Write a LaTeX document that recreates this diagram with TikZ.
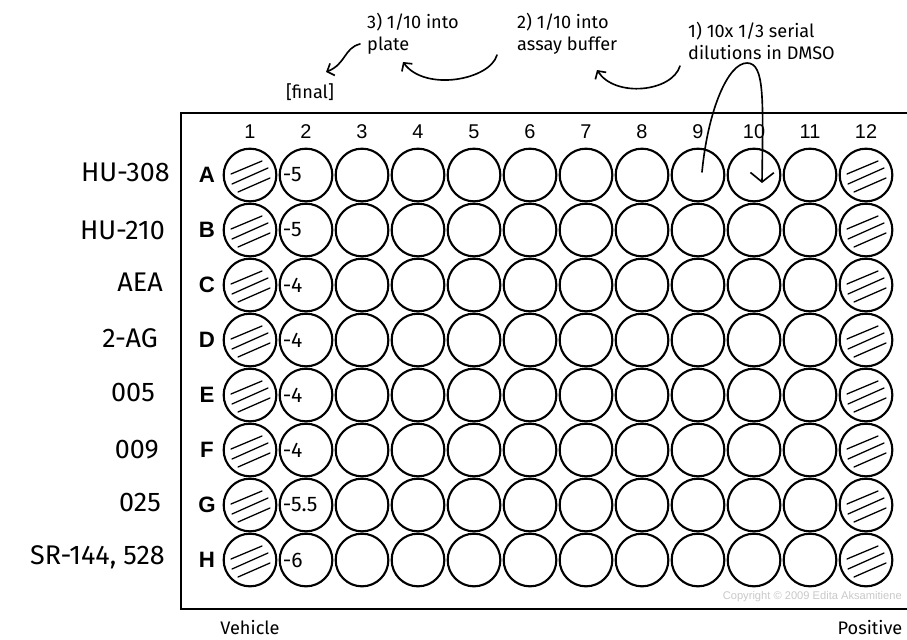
\documentclass[tikz,border=0pt]{standalone}
\usepackage{fontspec}
\setmainfont{Liberation Sans}
\newfontfamily\handfont{Fira Sans}
\usepackage{tikz}
\usetikzlibrary{arrows.meta,positioning,calc}
\definecolor{markgray}{RGB}{200,200,200}

\begin{document}
\begin{tikzpicture}[x=0.03cm, y=-0.03cm, >={Straight Barb[length=5pt,width=11pt]},
  well/.style={circle, draw, line width=1.8pt, minimum size=1.58cm, inner sep=0pt},
  hatch/.style={line width=1.1pt, line cap=round},
  hand/.style={line width=1.4pt, line cap=round, ->},
  handtext/.style={font=\handfont\fontsize{15.5}{19}\selectfont, align=left, inner sep=0pt},
  colnum/.style={font=\fontsize{17}{17}\selectfont},
  rowlet/.style={font=\bfseries\fontsize{19}{19}\selectfont},
  compound/.style={font=\handfont\fontsize{23}{23}\selectfont, anchor=east, inner sep=0pt},
  conc/.style={font=\handfont\fontsize{18}{18}\selectfont, anchor=west, inner sep=0pt}]
  \useasboundingbox (0,0) rectangle (907,639);
  \draw[line width=2.2pt] (907,113) -| (181,609) -- (907,609);
  \foreach \c in {1,...,12}
    \node[colnum] (col\c) at ({250+56*(\c-1)},132) {\c};
  \foreach \r [count=\i from 0] in {A,B,C,D,E,F,G,H} {
    \node[rowlet] (row\r) at (207,{175+55*\i}) {\r};
    \foreach \c in {1,...,12}
      \node[well] (\r\c) at ({250+56*(\c-1)},{175+55*\i}) {};
    \foreach \c in {1,12} {
      \draw[hatch] ($(\r\c)+(-19,-1)$) -- ($(\r\c)+(12,-14)$);
      \draw[hatch] ($(\r\c)+(-18,9)$) -- ($(\r\c)+(18,-7)$);
      \draw[hatch] ($(\r\c)+(-12,17)$) -- ($(\r\c)+(20,3)$);
    }
  }
  \foreach \r/\x/\y/\t in {A/170/172/HU-308, B/165/230/HU-210, C/163/282/AEA, D/158/338/2-AG,
      E/155/393/005, F/159/450/009, G/161/503/025, H/165/557/{SR-144, 528}}
    \node[compound] (lab\r) at (\x,\y) {\t};
  \foreach \r/\v in {A/-5, B/-5, C/-4, D/-4, E/-4, F/-4, G/-5.5, H/-6}
    \node[conc] (conc\r) at ($(\r2.west)+(4,0)$) {\v};

  \node[handtext, anchor=west] (step3) at (367,34) {3) 1/10 into\\plate};
  \node[handtext, anchor=west] (step2) at (517,34) {2) 1/10 into\\assay buffer};
  \node[handtext, anchor=west] (step1) at (688,41) {1) 10x 1/3 serial\\dilutions in DMSO};
  \node[handtext] (final) at (310,92) {[final]};
  \node[handtext] (vehicle) at (250,628) {Vehicle};
  \node[handtext] (positive) at (870,628) {Positive};
  \node[font=\fontsize{9.5}{10}\selectfont, text=markgray, anchor=east, inner sep=0pt] (copy) at (902,597) {Copyright © 2009 Edita Aksamitiene};

  \coordinate (out1) at (680,66);
  \coordinate (in2) at (597,70);
  \coordinate (out2) at (497,55);
  \coordinate (in3) at (403,62);
  \coordinate (out3) at (360,44);
  \coordinate (infinal) at (326,72);
  \draw[hand] (out1) .. controls (672,92) and (615,98) .. (in2);
  \draw[hand] (out2) .. controls (490,80) and (425,92) .. (in3);
  \draw[hand] (out3) .. controls (344,48) and (346,64) .. (infinal);
  \draw[hand, -{Straight Barb[length=8pt,width=20pt]}] ($(A9)+(4,-3)$) .. controls (708,110) and (728,63) .. (747,63)
    .. controls (765,63) and (763,100) .. ($(A10)+(8,8)$);
\end{tikzpicture}
\end{document}
